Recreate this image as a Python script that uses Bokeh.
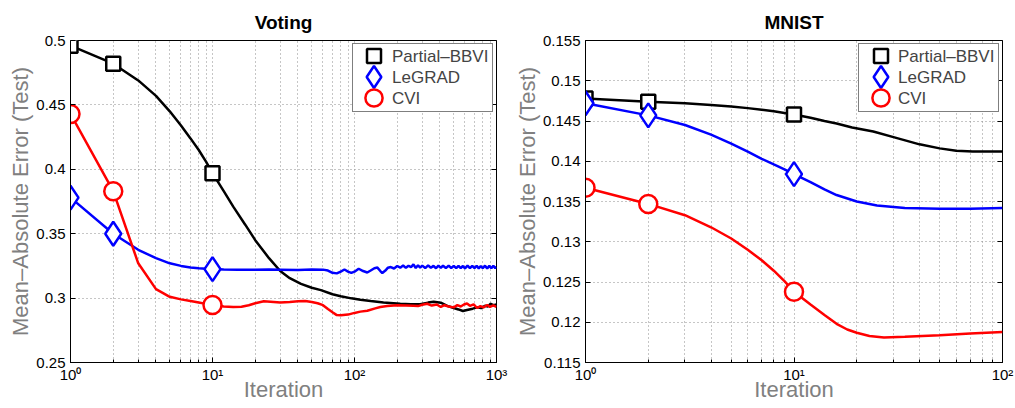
from bokeh.plotting import figure
from bokeh.models import (FixedTicker, CustomJSTickFormatter, LinearAxis,
                          Legend, LegendItem, Range1d)
from bokeh.layouts import row
from bokeh.embed import file_html
from bokeh.resources import INLINE

# ---------------- data: Voting ----------------
v_x_bbvi = [1, 2, 3, 4, 5, 6, 7, 8, 9, 10,
            12, 14, 17, 20, 25, 30, 35, 42, 50, 58,
            70, 80, 95, 110, 130, 160, 210, 250, 290, 330,
            361, 405, 450, 500, 540, 580, 620, 680, 730, 780,
            830, 870, 910, 950, 1000]
v_y_bbvi = [0.496, 0.482, 0.469, 0.457, 0.445, 0.434, 0.424, 0.415, 0.406, 0.397,
            0.383, 0.371, 0.357, 0.345, 0.331, 0.321, 0.3155, 0.311, 0.308, 0.3062,
            0.303, 0.3015, 0.2998, 0.2987, 0.2977, 0.2966, 0.2956, 0.2953, 0.2952, 0.2965,
            0.2972, 0.2964, 0.2940, 0.2923, 0.2912, 0.2900, 0.2908, 0.2918, 0.2928, 0.2922,
            0.2940, 0.2935, 0.2956, 0.2945, 0.2950]

v_x_legrad = [1, 2, 3, 4, 5, 6, 7, 8, 9, 10,
              12, 15, 20, 25, 30, 40, 50, 60,
              65, 70, 75, 80, 85, 90, 95, 100,
              107, 115, 123, 130, 138, 145, 152, 157, 165, 172, 180, 190,
              200, 210, 220, 230, 240, 250, 260, 270, 280, 290, 300,
              315, 330, 345, 360, 375, 390, 405, 420,
              440, 460, 480, 500, 520, 540, 560, 580, 600,
              625, 650, 675, 700, 725, 750, 775, 800,
              830, 860, 890, 920, 950, 980,
              1000]
v_y_legrad = [0.378, 0.350, 0.3375, 0.331, 0.327, 0.325, 0.3237, 0.3231, 0.3228, 0.3225,
              0.3222, 0.3220, 0.3220, 0.3223, 0.3221, 0.3218, 0.3222, 0.3221,
              0.3214, 0.3196, 0.3192, 0.3206, 0.3222, 0.3206, 0.3196, 0.3205,
              0.3228, 0.3210, 0.3199, 0.3214, 0.3232, 0.3237, 0.3210, 0.3195, 0.3214, 0.3236, 0.3241, 0.3230,
              0.3249, 0.3236, 0.3253, 0.3235, 0.3251, 0.3240, 0.3262, 0.3234, 0.3255, 0.3237, 0.3252,
              0.3233, 0.3254, 0.3236, 0.3250, 0.3232, 0.3253, 0.3235, 0.3251,
              0.3233, 0.3252, 0.3234, 0.3250, 0.3232, 0.3251, 0.3233, 0.3249, 0.3231,
              0.3252, 0.3232, 0.3250, 0.3233, 0.3251, 0.3231, 0.3249, 0.3232,
              0.3252, 0.3230, 0.3250, 0.3232, 0.3251, 0.3233,
              0.3242]

v_x_cvi = [1, 2, 3, 4, 5, 6, 7, 8, 9, 10,
           12, 14, 16, 18, 20, 23, 27, 30, 35, 40,
           45, 50, 55, 60, 65, 70, 75, 80, 90, 100,
           110, 123, 140, 152, 170, 200, 230, 260, 280, 300,
           325, 350, 380, 405, 430, 460, 500, 530, 560, 590,
           620, 650, 690, 730, 770, 810, 860, 900, 950, 1000]
v_y_cvi = [0.443, 0.383, 0.327, 0.307, 0.301, 0.299, 0.2978, 0.2966, 0.2955, 0.2946,
           0.2935, 0.2930, 0.2933, 0.2945, 0.2960, 0.2975, 0.2970, 0.2966, 0.2970, 0.2975,
           0.2978, 0.2970, 0.2960, 0.2945, 0.2915, 0.2890, 0.2868, 0.2866, 0.2872, 0.2885,
           0.2895, 0.2902, 0.2920, 0.2931, 0.2938, 0.2944, 0.2942, 0.2940, 0.2938, 0.2948,
           0.2956, 0.2942, 0.2950, 0.2931, 0.2945, 0.2935, 0.2928, 0.2945, 0.2935, 0.2950,
           0.2958, 0.2940, 0.2952, 0.2923, 0.2938, 0.2928, 0.2946, 0.2932, 0.2944, 0.2931]

# ---------------- data: MNIST ----------------
m_x_bbvi = [1, 2, 3, 4, 5, 6, 7, 8, 9, 10, 12, 14, 16, 19, 24, 30, 40, 50, 60, 72, 85, 100]
m_y_bbvi = [0.1478, 0.1474, 0.1472, 0.1470, 0.1468, 0.1466, 0.1464, 0.1462, 0.1460, 0.1458,
            0.1454, 0.1450, 0.1447, 0.1442, 0.1437, 0.1430, 0.1421, 0.1416, 0.1413, 0.1412,
            0.1412, 0.1412]

m_x_legrad = [1, 2, 3, 4, 5, 6, 7, 8, 9, 10, 12, 14, 16, 20, 25, 34, 50, 70, 100]
m_y_legrad = [0.1472, 0.1457, 0.1445, 0.1433, 0.1422, 0.1412, 0.1403, 0.1396, 0.1390, 0.1384,
              0.1374, 0.1365, 0.1358, 0.1350, 0.1345, 0.1342, 0.1341, 0.1341, 0.1342]

m_x_cvi = [1, 2, 3, 4, 5, 6, 7, 8, 9, 10, 12, 14, 16, 18, 20, 23, 27, 34, 50, 70, 100]
m_y_cvi = [0.1367, 0.1347, 0.1333, 0.1318, 0.1304, 0.1290, 0.1277, 0.1264, 0.1251, 0.1238,
           0.1222, 0.1209, 0.1198, 0.1191, 0.1187, 0.1183, 0.1181, 0.1182, 0.1184, 0.1186,
           0.1188]

marker_iters = [1, 2, 10]
series_names = ["Partial\u2013BBVI", "LeGRAD", "CVI"]
titles = ["Voting", "MNIST"]
y_label = "Mean\u2013Absolute Error (Test)"
x_label = "Iteration"

v_yticks = [0.25, 0.3, 0.35, 0.4, 0.45, 0.5]
m_yticks = [0.115, 0.12, 0.125, 0.13, 0.135, 0.14, 0.145, 0.15, 0.155]
v_xticks = [1, 10, 100, 1000]
m_xticks = [1, 10, 100]

FONT = "Liberation Sans"
COLORS = ["#000000", "#0000ff", "#ff0000"]
MARKERS = ["square", "diamond", "circle"]
SIZES = [14, 24, 18]
LEG_GLYPH = [35, 55, 43]     # legend key box -> marker size = 0.4 * box
GRID = "#8c8c8c"

H = 408
B_TOP = 40
B_BOTTOM = 46
FRAME_H = H - B_TOP - B_BOTTOM

# legend box geometry (pixels)
LEG_MARGIN = 3
LEG_PAD = 2
LEG_ROW = 21
LEG_GW = 36
LEG_STANDOFF = 1
LEG_LW = 98
LEG_W = 2 * LEG_PAD + LEG_GW + LEG_STANDOFF + LEG_LW

xfmt_code = r"""
const sup = ["\u2070", "\u00b9", "\u00b2", "\u00b3", "\u2074"];
return "10" + sup[Math.round(Math.log10(tick))];
"""
yfmt_code = "return String(parseFloat(tick.toFixed(4)));"
blank_code = "return '';"


def style_axis(ax, minor=True):
    ax.axis_line_color = "black"
    ax.axis_line_width = 1
    ax.major_tick_in = 5
    ax.major_tick_out = 0
    ax.minor_tick_in = 3
    ax.minor_tick_out = 0
    ax.major_tick_line_color = "black"
    ax.minor_tick_line_color = "black" if minor else None
    ax.major_label_text_font = FONT
    ax.major_label_text_font_size = "15px"
    ax.major_label_text_color = "black"
    ax.axis_label_text_font = FONT
    ax.axis_label_text_font_size = "22px"
    ax.axis_label_text_font_style = "normal"
    ax.axis_label_text_color = "#808080"


def make_panel(title, data, xticks, yticks, width, b_left, b_right, frame_w):
    p = figure(width=width, height=H, x_axis_type="log",
               x_range=Range1d(xticks[0], xticks[-1]),
               y_range=Range1d(yticks[0], yticks[-1]),
               output_backend="svg", toolbar_location=None,
               min_border_left=b_left, min_border_right=b_right,
               min_border_top=B_TOP, min_border_bottom=B_BOTTOM)
    p.title.text = title
    p.title.align = "center"
    p.title.text_font = FONT
    p.title.text_font_size = "19px"
    p.title.text_font_style = "bold"
    p.title.text_color = "black"
    p.title.standoff = 16
    p.background_fill_color = "white"
    p.border_fill_color = "white"
    p.outline_line_color = "black"
    p.outline_line_width = 1

    minor = [m * d for d in xticks[:-1] for m in range(2, 10)]
    xt = FixedTicker(ticks=xticks, minor_ticks=minor)
    yt = FixedTicker(ticks=yticks)

    xa = p.xaxis[0]
    xa.ticker = xt
    xa.formatter = CustomJSTickFormatter(code=xfmt_code)
    style_axis(xa, True)
    xa.major_label_standoff = 3
    xa.axis_label = x_label
    xa.axis_label_standoff = -9
    ya = p.yaxis[0]
    ya.ticker = yt
    ya.formatter = CustomJSTickFormatter(code=yfmt_code)
    style_axis(ya, False)
    ya.major_label_standoff = 5
    ya.axis_label = y_label
    ya.axis_label_standoff = 0

    right = LinearAxis(ticker=yt, formatter=CustomJSTickFormatter(code=blank_code),
                       major_label_standoff=0)
    style_axis(right, False)
    right.major_label_text_font_size = "2px"
    right.axis_line_color = None
    p.add_layout(right, "right")

    p.xgrid.grid_line_color = GRID
    p.xgrid.grid_line_dash = "1 3"
    p.xgrid.minor_grid_line_color = GRID
    p.xgrid.minor_grid_line_dash = "1 3"
    p.ygrid.grid_line_color = GRID
    p.ygrid.grid_line_dash = "1 3"

    items = []
    marks = []
    for (xs, ys), name, c, mk, sz in zip(data, series_names, COLORS, MARKERS, SIZES):
        p.line(xs, ys, line_color=c, line_width=2.5)
        mx = [x for x in xs if x in marker_iters]
        my = [y for x, y in zip(xs, ys) if x in marker_iters]
        r = p.scatter(mx, my, marker=mk, size=sz, line_color=c, fill_color="white",
                      line_width=2.5)
        marks.append(r)
        items.append(LegendItem(label=name, renderers=[r]))

    leg = Legend(items=items, location="top_right", glyph_width=LEG_GW,
                 glyph_height=LEG_ROW, label_height=LEG_ROW, spacing=0, padding=LEG_PAD,
                 label_standoff=LEG_STANDOFF, label_width=LEG_LW, margin=LEG_MARGIN,
                 border_line_color="black", border_line_width=1,
                 background_fill_color="white", background_fill_alpha=1.0,
                 label_text_font=FONT, label_text_font_size="17px")
    p.add_layout(leg)

    # larger legend keys, one per series, drawn over the small default ones
    cx = frame_w - LEG_MARGIN - LEG_W + LEG_PAD + LEG_GW / 2
    for i, (r, g) in enumerate(zip(marks, LEG_GLYPH)):
        cy = FRAME_H - LEG_MARGIN - LEG_PAD - LEG_ROW / 2 - LEG_ROW * i
        key = Legend(items=[LegendItem(label=" ", renderers=[r])],
                     location=(int(round(cx - g / 2)), int(round(cy - g / 2))),
                     glyph_width=g, glyph_height=g, label_height=1, label_width=1,
                     label_standoff=0, padding=0, spacing=0, margin=0,
                     border_line_color=None, background_fill_alpha=0.0,
                     label_text_font=FONT, label_text_font_size="4px")
        p.add_layout(key)
    return p


p1 = make_panel(titles[0],
                [(v_x_bbvi, v_y_bbvi), (v_x_legrad, v_y_legrad), (v_x_cvi, v_y_cvi)],
                v_xticks, v_yticks, width=510, b_left=70, b_right=14, frame_w=426)
p2 = make_panel(titles[1],
                [(m_x_bbvi, m_y_bbvi), (m_x_legrad, m_y_legrad), (m_x_cvi, m_y_cvi)],
                m_xticks, m_yticks, width=505, b_left=75, b_right=13, frame_w=417)

layout = row(p1, p2)
open("out.html", "w", encoding="utf-8").write(file_html(layout, INLINE))
